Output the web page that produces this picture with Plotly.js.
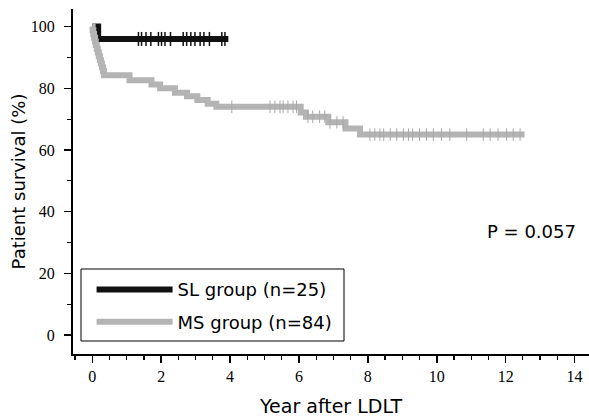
<!DOCTYPE html>
<html>
<head>
<meta charset="utf-8">
<script src="https://cdn.plot.ly/plotly-3.0.1.min.js"></script>
<style>html,body{margin:0;padding:0;background:#fff;}#chart{width:589px;height:417px;}</style>
</head>
<body>
<div id="chart"></div>
<script>
// Kaplan-Meier step data (years after LDLT, survival %)
var slTime = [0, 0.17, 3.95];
var slSurv = [100, 96, 96];
var slCensor = [1.34, 1.43, 1.56, 1.70, 1.92, 2.01, 2.11, 2.27, 2.64, 2.74, 2.86, 2.98, 3.13, 3.24, 3.40, 3.76, 3.85];

var msTime = [0, 0.01, 0.03, 0.05, 0.08, 0.10, 0.13, 0.16, 0.19, 0.22, 0.25, 0.28, 0.31, 0.34,
              1.08, 1.72, 1.97, 2.40, 2.75, 3.05, 3.35, 3.60, 6.05, 6.20, 6.85, 7.35, 7.77, 12.55];
var msSurv = [100, 98.8, 97.6, 96.4, 95.2, 94.0, 92.8, 91.6, 90.4, 89.2, 88.0, 86.8, 85.6, 84.2,
              82.6, 81.2, 80.0, 78.6, 77.4, 76.2, 75.0, 74.0, 72.2, 70.8, 69.0, 67.0, 65.0, 65.0];
var msCensor = [4.05, 5.16, 5.30, 5.45, 5.54, 5.68, 5.83, 5.93, 6.26, 6.40, 6.60, 6.75, 6.90, 7.10, 7.28,
                8.06, 8.20, 8.35, 8.46, 8.65, 8.84, 9.03, 9.18, 9.30, 9.50, 9.70, 9.90, 10.14, 10.38,
                10.87, 11.35, 11.55, 11.78, 12.03, 12.22, 12.42];

var seriesNames = ['SL group (n=25)', 'MS group (n=84)'];
var pText = 'P = 0.057';
var xTitle = 'Year after LDLT';
var yTitle = 'Patient survival (%)';
var xTickVals = [0, 2, 4, 6, 8, 10, 12, 14];
var yTickVals = [0, 20, 40, 60, 80, 100];

function stepAt(times, surv, t) {
  var v = surv[0];
  for (var i = 0; i < times.length; i++) { if (times[i] <= t) v = surv[i]; }
  return v;
}

var slColor = '#111111';
var msColor = '#b4b4b4';

var SERIF = 'Liberation Serif';
var SANS = 'DejaVu Sans';
function serif() { return {family: SERIF, size: 16, color: '#000'}; }
function sans(s) { return {family: SANS, size: s || 18, color: '#000'}; }

var traces = [
  {x: slTime, y: slSurv, type: 'scatter', mode: 'lines', line: {shape: 'hv', color: slColor, width: 6},
   name: seriesNames[0], legendgroup: 'a', cliponaxis: false},
  {x: msTime, y: msSurv, type: 'scatter', mode: 'lines', line: {shape: 'hv', color: msColor, width: 6},
   name: seriesNames[1], legendgroup: 'b', cliponaxis: false},
  {x: slCensor, y: slCensor.map(function (t) { return stepAt(slTime, slSurv, t); }), type: 'scatter', mode: 'markers',
   marker: {symbol: 'line-ns', size: 10, line: {color: slColor, width: 1.5}}, showlegend: false, legendgroup: 'a'},
  {x: msCensor, y: msCensor.map(function (t) { return stepAt(msTime, msSurv, t); }), type: 'scatter', mode: 'markers',
   marker: {symbol: 'line-ns', size: 9, line: {color: '#a8a8a8', width: 1}}, showlegend: false, legendgroup: 'b'}
];

var layout = {
  width: 589, height: 417,
  font: serif(),
  margin: {l: 73, r: 0, t: 9, b: 63},
  paper_bgcolor: '#fff', plot_bgcolor: '#fff',
  showlegend: true,
  xaxis: {
    range: [-0.56, 14.42], tickmode: 'array', tickvals: xTickVals, ticktext: xTickVals.map(String),
    showgrid: false, zeroline: false, showline: true, linecolor: '#000', linewidth: 2,
    ticks: 'outside', ticklen: 7, tickwidth: 1.5, tickcolor: '#000',
    minor: {dtick: 0.5, tick0: 0, ticks: 'outside', ticklen: 4, tickwidth: 1.2, tickcolor: '#000', showgrid: false},
    tickfont: serif(),
    title: {text: xTitle, font: sans(19), standoff: 16}
  },
  yaxis: {
    range: [-6.1, 105.7], tickmode: 'array', tickvals: yTickVals, ticktext: yTickVals.map(String),
    showgrid: false, zeroline: false, showline: true, linecolor: '#000', linewidth: 2,
    ticks: 'outside', ticklen: 7, tickwidth: 1.5, tickcolor: '#000',
    minor: {dtick: 10, tick0: 0, ticks: 'outside', ticklen: 4, tickwidth: 1.2, tickcolor: '#000', showgrid: false},
    tickfont: serif(), ticklabelstandoff: 6,
    title: {text: yTitle, font: sans(18), standoff: 0}
  },
  legend: {
    x: 0.036, y: 0.04, xanchor: 'left', yanchor: 'bottom',
    bgcolor: 'rgba(0,0,0,0)', borderwidth: 0,
    font: sans(18), itemwidth: 76, traceorder: 'grouped', tracegroupgap: 6
  },
  shapes: [
    {type: 'rect', xref: 'paper', yref: 'paper', x0: (81 - 73) / 516, x1: (344 - 73) / 516,
     y0: (354 - 341) / 345, y1: (354 - 269) / 345, line: {color: '#000', width: 1}, fillcolor: 'rgba(0,0,0,0)'}
  ],
  annotations: [
    {text: pText, xref: 'paper', yref: 'paper', x: 0.979, y: 0.354, xanchor: 'right', yanchor: 'middle',
     showarrow: false, font: sans(18)}
  ]
};

Plotly.newPlot('chart', traces, layout, {displayModeBar: false, staticPlot: true});
</script>
</body>
</html>
